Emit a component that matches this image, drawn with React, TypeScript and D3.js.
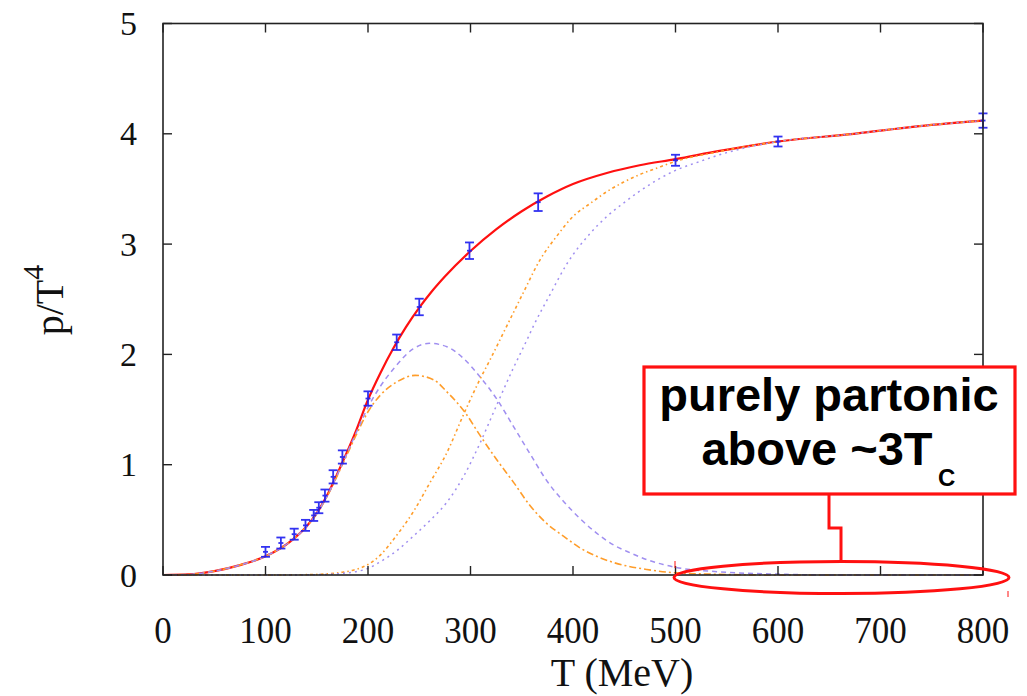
import React from "react";
import * as d3 from "d3";

// ---- data ----
const xTicks = [0, 100, 200, 300, 400, 500, 600, 700, 800];
const yTicks = [0, 1, 2, 3, 4, 5];

const dataT = [100, 115, 128, 139, 147, 152, 158, 166, 175, 200, 228, 250, 299, 366, 500, 600, 800];
const dataP = [0.21, 0.29, 0.37, 0.45, 0.54, 0.61, 0.72, 0.89, 1.07, 1.6, 2.11, 2.43, 2.94, 3.38, 3.76, 3.93, 4.12];
const dataErr = [0.045, 0.05, 0.05, 0.05, 0.05, 0.05, 0.055, 0.06, 0.06, 0.065, 0.07, 0.075, 0.075, 0.08, 0.05, 0.045, 0.065];

const totalCurve: [number, number][] = [
  [0, 0], [25, 0.005], [50, 0.035], [75, 0.09], [100, 0.17], [125, 0.31], [140, 0.44], [150, 0.56],
  [160, 0.72], [175, 1.02], [188, 1.3], [200, 1.59], [212, 1.83], [225, 2.06], [237, 2.247], [250, 2.424],
  [262, 2.568], [275, 2.706], [300, 2.937], [325, 3.133], [350, 3.298], [375, 3.434], [400, 3.545], [433, 3.645],
  [465, 3.715], [500, 3.77], [543, 3.845], [600, 3.93], [674, 4.0], [738, 4.07], [800, 4.12],
];
const hadronDashDot: [number, number][] = [
  [0, 0], [25, 0.005], [50, 0.035], [75, 0.09], [100, 0.17], [125, 0.31], [140, 0.44], [150, 0.555],
  [160, 0.71], [175, 1.0], [188, 1.26], [200, 1.48], [212, 1.63], [228, 1.75], [246, 1.81], [264, 1.77],
  [277, 1.66], [295, 1.47], [309, 1.27], [326, 1.04], [342, 0.84], [358, 0.63], [374, 0.47], [391, 0.35],
  [407, 0.245], [423, 0.17], [439, 0.115], [472, 0.05], [500, 0.02], [550, 0.005], [600, 0], [800, 0],
];
const hadronDashed: [number, number][] = [
  [0, 0], [25, 0.005], [50, 0.035], [75, 0.09], [100, 0.17], [125, 0.31], [140, 0.44], [150, 0.557],
  [160, 0.715], [175, 1.01], [188, 1.28], [200, 1.52], [212, 1.71], [225, 1.87], [244, 2.05], [260, 2.1],
  [277, 2.07], [293, 1.965], [309, 1.8], [326, 1.59], [342, 1.345], [358, 1.1], [374, 0.86], [391, 0.665],
  [407, 0.51], [423, 0.38], [439, 0.275], [456, 0.2], [472, 0.14], [488, 0.095], [500, 0.07], [550, 0.025],
  [600, 0.008], [650, 0], [800, 0],
];
const partonDotOrange: [number, number][] = [
  [0, 0], [100, 0], [140, 0.003], [160, 0.01], [175, 0.025], [188, 0.05], [200, 0.095], [212, 0.18],
  [228, 0.36], [244, 0.57], [260, 0.83], [277, 1.11], [293, 1.45], [309, 1.77], [319, 1.95], [335, 2.25],
  [351, 2.55], [368, 2.86], [384, 3.07], [400, 3.25], [417, 3.37], [433, 3.475], [449, 3.56], [465, 3.63],
  [482, 3.69], [500, 3.75], [543, 3.84], [600, 3.93], [674, 4.0], [738, 4.07], [800, 4.12],
];
const partonDotPurple: [number, number][] = [
  [0, 0], [120, 0], [150, 0.003], [175, 0.015], [200, 0.06], [212, 0.12], [228, 0.22], [244, 0.35],
  [260, 0.49], [277, 0.66], [293, 0.89], [309, 1.19], [326, 1.55], [342, 1.88], [355, 2.13], [361, 2.25],
  [378, 2.55], [394, 2.82], [417, 3.1], [433, 3.25], [449, 3.37], [465, 3.48], [482, 3.58], [498, 3.66],
  [524, 3.75], [543, 3.81], [576, 3.89], [600, 3.93], [674, 4.0], [738, 4.07], [800, 4.12],
];

const xLabel = "T (MeV)";
const yLabelMain = "p/T";
const yLabelSup = "4";
const noteLine1 = "purely partonic";
const noteLine2 = "above ~3T";
const noteSub = "C";

// ---- layout ----
const W = 1027;
const H = 696;
const L = 163, R = 983, T = 23.5, B = 575;

export default function App() {
  const x = d3.scaleLinear().domain([0, 800]).range([L, R]);
  const y = d3.scaleLinear().domain([0, 5]).range([B, T]);
  const line = d3
    .line<[number, number]>()
    .x((d) => x(d[0]))
    .y((d) => y(d[1]))
    .curve(d3.curveMonotoneX);

  const red = "#ff1010";
  const orange = "#ff9d2a";
  const purple = "#a08ff0";
  const blue = "#1c1cf0";
  const serif = "'Liberation Serif', 'Times New Roman', serif";
  const sans = "'Liberation Sans', Arial, sans-serif";

  return (
    <svg
      width={W}
      height={H}
      style={{ position: "absolute", left: 0, top: 0, background: "#fff" }}
      xmlns="http://www.w3.org/2000/svg"
    >
      <rect x={0} y={0} width={W} height={H} fill="#fff" />
      {/* curves */}
      <path d={line(totalCurve) || ""} fill="none" stroke={red} strokeWidth={2.2} />
      <path d={line(hadronDashDot) || ""} fill="none" stroke={orange} strokeWidth={1.6} strokeDasharray="7,3,2,3" />
      <path d={line(hadronDashed) || ""} fill="none" stroke={purple} strokeWidth={1.5} strokeDasharray="5,4" />
      <path d={line(partonDotOrange) || ""} fill="none" stroke={orange} strokeWidth={1.6} strokeDasharray="3,3,1.5,3" />
      <path d={line(partonDotPurple) || ""} fill="none" stroke={purple} strokeWidth={1.5} strokeDasharray="2,4" />

      {/* data points */}
      {dataT.map((t, i) => {
        const cx = x(t);
        const y1 = y(dataP[i] + dataErr[i]);
        const y0 = y(dataP[i] - dataErr[i]);
        const cy = y(dataP[i]);
        return (
          <g key={i} stroke={blue} strokeWidth={1.8} opacity={0.9}>
            <line x1={cx} x2={cx} y1={y1} y2={y0} />
            <line x1={cx - 4.5} x2={cx + 4.5} y1={y1} y2={y1} />
            <line x1={cx - 4.5} x2={cx + 4.5} y1={y0} y2={y0} />
            <line x1={cx - 2.5} x2={cx + 2.5} y1={cy} y2={cy} />
          </g>
        );
      })}

      {/* frame */}
      <rect x={L} y={T} width={R - L} height={B - T} fill="none" stroke="#222" strokeWidth={1.6} />
      {xTicks.map((v) => (
        <g key={"x" + v}>
          <line x1={x(v)} x2={x(v)} y1={B} y2={B - 9} stroke="#222" strokeWidth={1.4} />
          <line x1={x(v)} x2={x(v)} y1={T} y2={T + 9} stroke="#222" strokeWidth={1.4} />
          <text
            transform={`translate(${x(v)},643) scale(1,1.08)`}
            textAnchor="middle"
            fontFamily={serif}
            fontSize={35}
            fill="#111"
          >
            {v}
          </text>
        </g>
      ))}
      {yTicks.map((v) => (
        <g key={"y" + v}>
          <line x1={L} x2={L + 9} y1={y(v)} y2={y(v)} stroke="#222" strokeWidth={1.4} />
          <line x1={R} x2={R - 9} y1={y(v)} y2={y(v)} stroke="#222" strokeWidth={1.4} />
          <text x={137} y={y(v) + 11.5} textAnchor="end" fontFamily={serif} fontSize={34} fill="#111">
            {v}
          </text>
        </g>
      ))}

      {/* axis labels */}
      <text x={622} y={686} textAnchor="middle" fontFamily={serif} fontSize={40} fill="#111">
        {xLabel}
      </text>
      <text
        transform="translate(63,300) rotate(-90)"
        textAnchor="middle"
        fontFamily={serif}
        fontSize={40}
        fill="#111"
      >
        {yLabelMain}
        <tspan dy={-20} fontSize={30}>
          {yLabelSup}
        </tspan>
      </text>

      {/* annotation */}
      <rect x={644} y={367} width={371} height={127} fill="#fff" stroke={red} strokeWidth={3.2} />
      <text x={829} y={411} textAnchor="middle" fontFamily={sans} fontWeight="bold" fontSize={47} fill="#000">
        {noteLine1}
      </text>
      <text x={817} y={465} textAnchor="middle" fontFamily={sans} fontWeight="bold" fontSize={47} fill="#000">
        {noteLine2}
      </text>
      <text x={938} y={486} fontFamily={sans} fontWeight="bold" fontSize={24} fill="#000">
        {noteSub}
      </text>
      <path d="M829,494 V528 H841 V562" fill="none" stroke={red} strokeWidth={3} />
      <ellipse cx={841.5} cy={577.5} rx={167.5} ry={16} fill="none" stroke={red} strokeWidth={3} />
      <line x1={675} x2={675} y1={561} y2={568} stroke={red} strokeWidth={1} />
      <line x1={1008} x2={1008} y1={591} y2={597} stroke={red} strokeWidth={1} />
    </svg>
  );
}
